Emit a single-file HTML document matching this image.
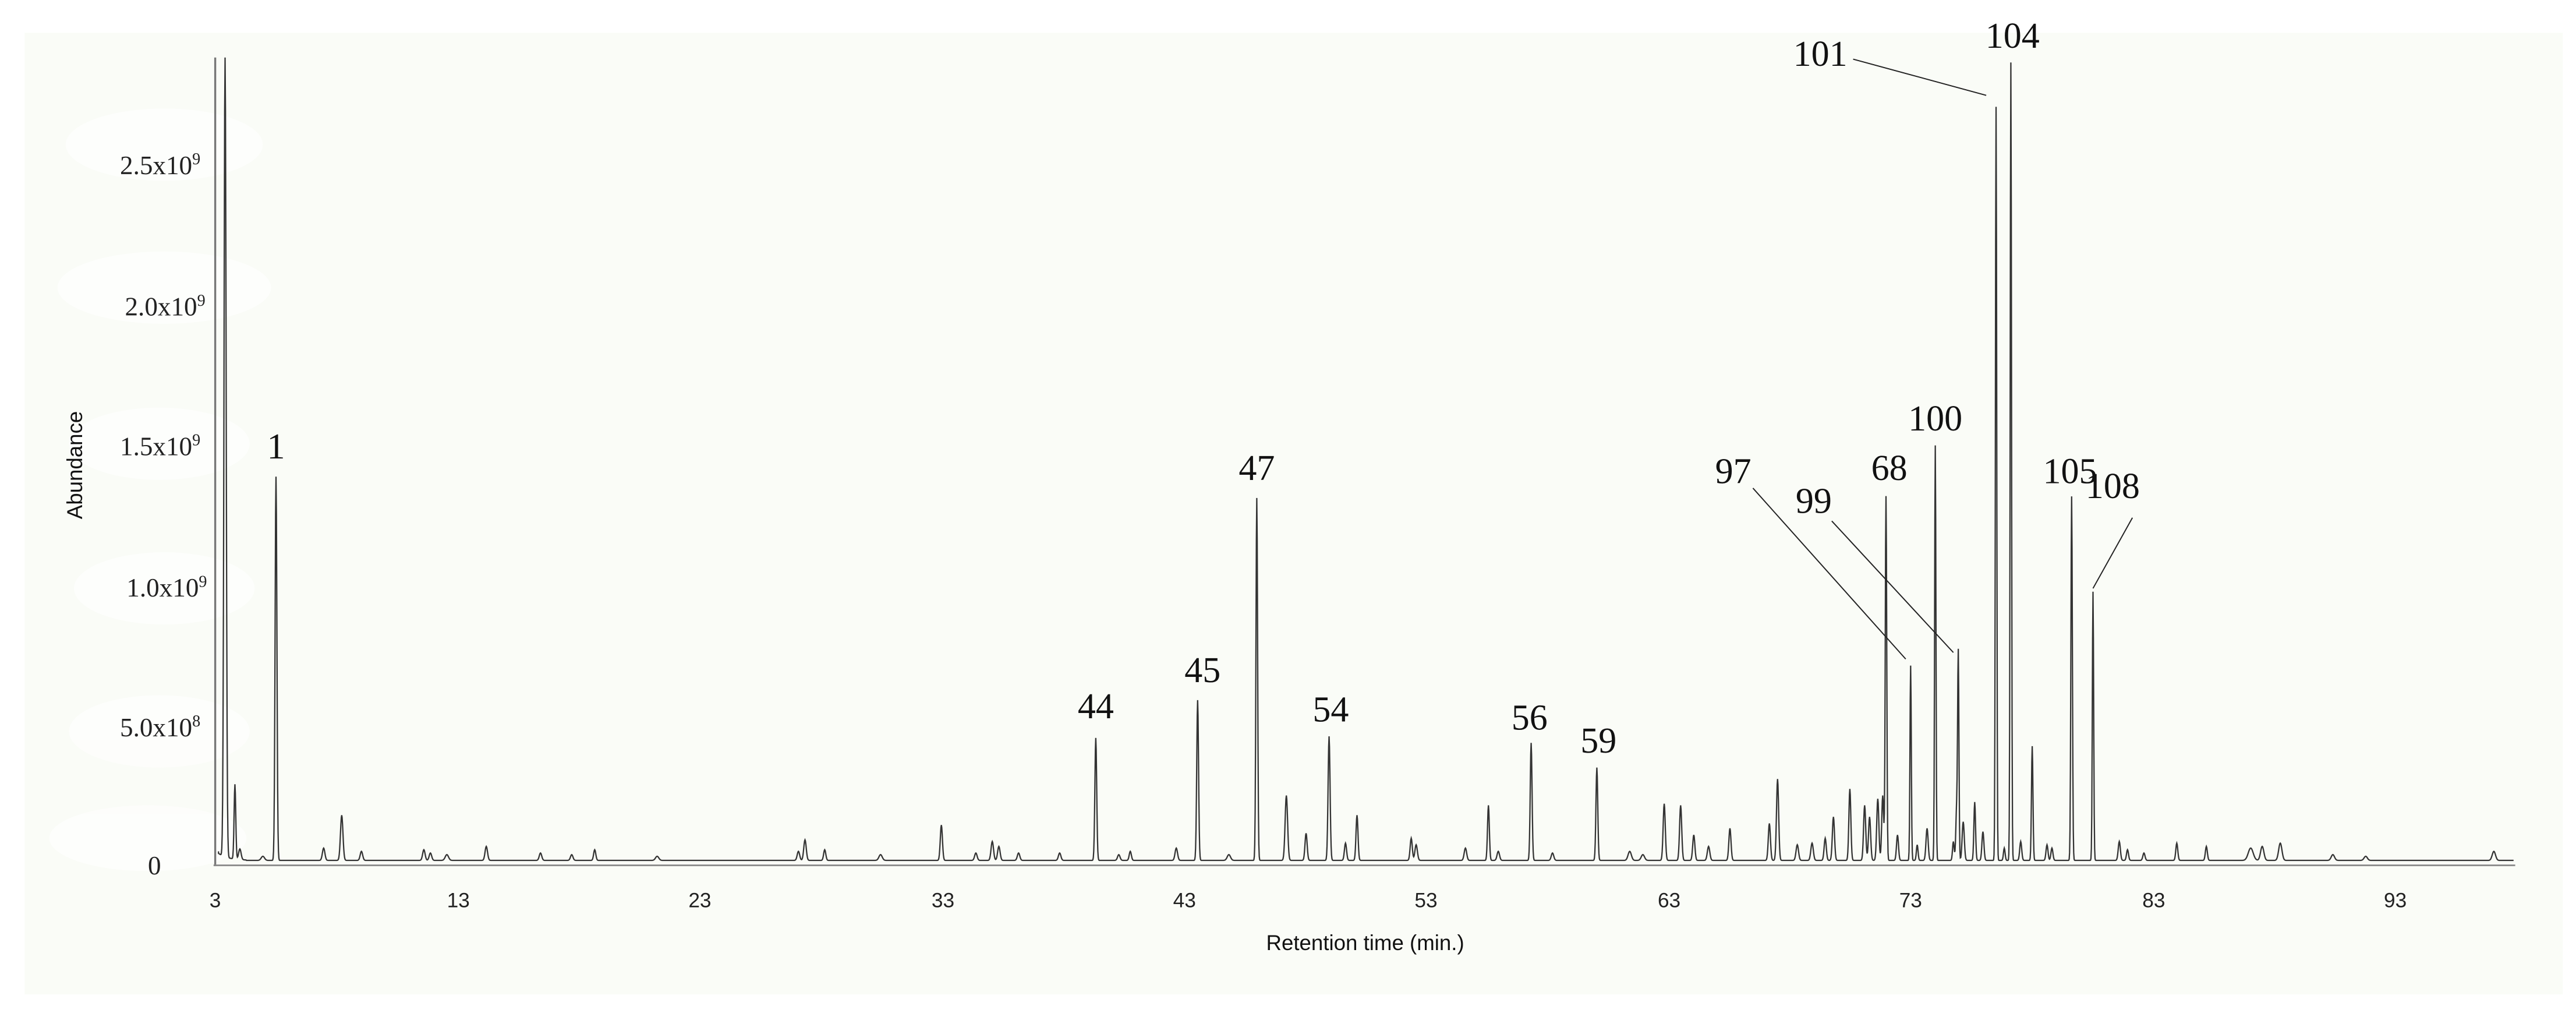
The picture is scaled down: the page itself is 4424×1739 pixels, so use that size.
<!DOCTYPE html>
<html><head><meta charset="utf-8">
<style>
html,body{margin:0;padding:0;background:#fbfdf9;}
svg{display:block;}
</style></head>
<body>
<svg id="s" width="4424" height="1739" viewBox="0 0 1568 616.35" xmlns="http://www.w3.org/2000/svg">
<rect x="0" y="0" width="1568" height="616.35" fill="#ffffff"/>
<rect x="15" y="20" width="1545" height="585" fill="#fafcf7"/>
<g fill="#ffffff" opacity="0.6">
<ellipse cx="100" cy="88" rx="60" ry="22"/>
<ellipse cx="100" cy="175" rx="65" ry="22"/>
<ellipse cx="97" cy="270" rx="55" ry="22"/>
<ellipse cx="100" cy="358" rx="55" ry="22"/>
<ellipse cx="97" cy="445" rx="55" ry="22"/>
<ellipse cx="90" cy="510" rx="60" ry="20"/>
</g>
<g font-family="'Liberation Serif',serif" font-size="16" fill="#222" text-anchor="end">
<text x="122" y="106">2.5x10<tspan font-size="10" dy="-6">9</tspan></text>
<text x="125" y="192">2.0x10<tspan font-size="10" dy="-6">9</tspan></text>
<text x="122" y="277">1.5x10<tspan font-size="10" dy="-6">9</tspan></text>
<text x="126" y="363">1.0x10<tspan font-size="10" dy="-6">9</tspan></text>
<text x="122" y="448">5.0x10<tspan font-size="10" dy="-6">8</tspan></text>
<text x="98" y="532">0</text>
</g>
<text transform="translate(50,283) rotate(-90)" font-family="'Liberation Sans',sans-serif" font-size="13" fill="#111" text-anchor="middle">Abundance</text>
<g font-family="'Liberation Sans',sans-serif" font-size="12.5" fill="#222" text-anchor="middle">
<text x="131" y="552">3</text><text x="279" y="552">13</text><text x="426" y="552">23</text><text x="574" y="552">33</text><text x="721" y="552">43</text><text x="868" y="552">53</text><text x="1016" y="552">63</text><text x="1163" y="552">73</text><text x="1311" y="552">83</text><text x="1458" y="552">93</text>
</g>
<text x="831" y="578" font-family="'Liberation Sans',sans-serif" font-size="13" fill="#111" text-anchor="middle">Retention time (min.)</text>
<line x1="131" y1="35" x2="131" y2="527" stroke="#777" stroke-width="1.2"/>
<line x1="130" y1="526.5" x2="1531" y2="526.5" stroke="#888" stroke-width="1"/>
<path id="tr" d="" fill="none" stroke="#333" stroke-width="0.8"/>
<g stroke="#222" stroke-width="0.7">
<line x1="1067" y1="297" x2="1160" y2="401"/>
<line x1="1115" y1="317" x2="1189" y2="397"/>
<line x1="1128" y1="36" x2="1209" y2="58"/>
<line x1="1298" y1="315" x2="1274" y2="358"/>
</g>
<g font-family="'Liberation Serif',serif" font-size="22" fill="#111" text-anchor="middle">
<text x="168" y="279">1</text>
<text x="667" y="437">44</text>
<text x="732" y="415">45</text>
<text x="765" y="292">47</text>
<text x="810" y="439">54</text>
<text x="931" y="444">56</text>
<text x="973" y="458">59</text>
<text x="1055" y="294">97</text>
<text x="1104" y="312">99</text>
<text x="1150" y="292">68</text>
<text x="1178" y="262">100</text>
<text x="1108" y="40">101</text>
<text x="1225" y="29">104</text>
<text x="1260" y="294">105</text>
<text x="1286" y="303">108</text>
</g>
</svg>
<script>
var pk=[[137,35,1.3],[143,478,1],[146,517,1.5],[168,290,1.1],[160,521,2],[197,516,1.5],[208,496,1.5],[220,518,1.5],[258,517,1.5],[262,519,1.5],[272,520,2],[296,515,1.5],[329,519,1.5],[348,520,1.5],[362,517,1.3],[400,521,2],[490,511,1.5],[486,518,1.5],[502,517,1.3],[536,520,2],[573,502,1.3],[594,519,1.5],[604,512,1.5],[608,515,1.5],[620,519,1.5],[645,519,1.5],[667,449,1.1],[681,520,1.5],[688,518,1.3],[716,516,1.5],[729,426,1.1],[748,520,2],[765,303,1],[783,484,1.5],[795,507,1.3],[809,448,1.2],[819,513,1.3],[826,496,1.2],[859,510,1.3],[862,514,1.5],[892,516,1.5],[906,490,1.1],[912,518,1.5],[932,452,1.1],[945,519,1.5],[972,467,1.1],[992,518,2],[1000,520,2],[1013,489,1.3],[1023,490,1.3],[1031,508,1.3],[1040,515,1.5],[1053,504,1.3],[1077,501,1.3],[1082,474,1.3],[1094,514,1.5],[1103,513,1.5],[1111,510,1.3],[1116,497,1.3],[1126,480,1.2],[1135,490,1.3],[1138,497,1.3],[1143,486,1.3],[1146,484,1.2],[1148,302,0.9],[1155,508,1.2],[1163,405,0.8],[1167,514,1],[1173,504,1.3],[1178,271,0.8],[1189,512,1],[1191,492,1],[1192,399,0.8],[1195,500,1.3],[1202,488,1],[1207,506,1.2],[1215,65,0.8],[1220,516,1],[1224,38,0.8],[1230,512,1.2],[1237,454,0.9],[1246,514,1.2],[1249,516,1.2],[1261,302,0.9],[1274,360,0.8],[1290,512,1.3],[1295,517,1.2],[1305,519,1.3],[1325,513,1.2],[1343,515,1.2],[1370,516,3],[1377,515,2],[1388,513,2],[1420,520,2],[1440,521,2],[1518,518,2]];
var base=523.5,d="M133,518";
for(var x=133;x<=1530;x+=0.25){var y=base;
 if(x<150){y-= 6*Math.exp(-(x-131)/6);}
 for(var i=0;i<pk.length;i++){var p=pk[i],dx=x-p[0];if(Math.abs(dx)<12){y-=(base-p[1])*Math.exp(-dx*dx/(2*p[2]*p[2]/4));}}
 d+="L"+x.toFixed(2)+","+Math.max(35,y).toFixed(2);}
document.getElementById("tr").setAttribute("d",d);
</script>
</body></html>
